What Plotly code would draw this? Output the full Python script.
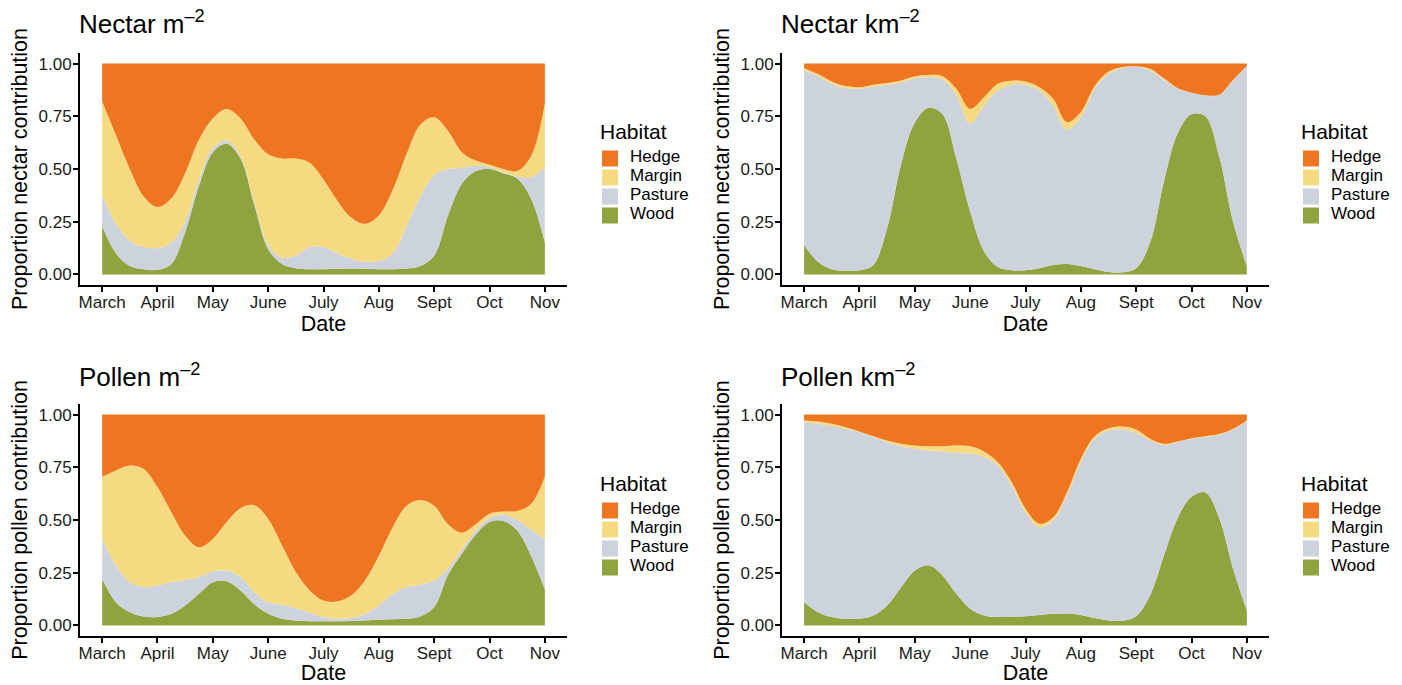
import plotly.graph_objects as go

# ---------------- data ----------------
month_pos = [0, 0.25, 0.5, 0.75, 1, 1.25, 1.5, 1.75, 2, 2.25, 2.5, 2.75, 3, 3.25, 3.5, 3.75,
             4, 4.25, 4.5, 4.75, 5, 5.25, 5.5, 5.75, 6, 6.25, 6.5, 6.75, 7, 7.25, 7.5, 7.75, 8]
month_ticks = [0, 1, 2, 3, 4, 5, 6, 7, 8]
month_labels = ["March", "April", "May", "June", "July", "Aug", "Sept", "Oct", "Nov"]
habitats = ["Hedge", "Margin", "Pasture", "Wood"]
colors = {"Hedge": "#EE7621", "Margin": "#F5DA82", "Pasture": "#CCD3DC", "Wood": "#8FA33F"}

# Nectar m^-2
nm_wood = [0.23, 0.10, 0.04, 0.025, 0.022, 0.05, 0.20, 0.42, 0.58, 0.62, 0.55, 0.33, 0.12, 0.05, 0.03, 0.025,
           0.025, 0.027, 0.028, 0.027, 0.025, 0.025, 0.028, 0.04, 0.09, 0.28, 0.43, 0.49, 0.50, 0.48, 0.455, 0.36, 0.15]
nm_pasture = [0.145, 0.14, 0.12, 0.105, 0.103, 0.10, 0.05, 0.03, 0.02, 0.015, 0.01, 0.01, 0.02, 0.03, 0.06, 0.105,
              0.105, 0.073, 0.047, 0.033, 0.04, 0.075, 0.202, 0.33, 0.38, 0.22, 0.075, 0.025, 0.01, 0.005, 0.01, 0.10, 0.36]
nm_margin = [0.445, 0.42, 0.34, 0.24, 0.195, 0.21, 0.23, 0.19, 0.14, 0.15, 0.18, 0.30, 0.43, 0.47, 0.46, 0.40,
             0.32, 0.25, 0.195, 0.18, 0.215, 0.30, 0.34, 0.34, 0.275, 0.18, 0.075, 0.025, 0.01, 0.015, 0.025, 0.10, 0.30]
nm_hedge = [0.18, 0.34, 0.50, 0.63, 0.68, 0.64, 0.52, 0.36, 0.26, 0.215, 0.26, 0.36, 0.43, 0.45, 0.45, 0.47,
            0.55, 0.65, 0.73, 0.76, 0.72, 0.60, 0.43, 0.29, 0.255, 0.32, 0.42, 0.46, 0.48, 0.50, 0.51, 0.44, 0.19]

# Nectar km^-2
nk_wood = [0.14, 0.06, 0.025, 0.018, 0.02, 0.045, 0.22, 0.52, 0.72, 0.79, 0.76, 0.55, 0.30, 0.11, 0.035, 0.02,
           0.02, 0.03, 0.045, 0.05, 0.04, 0.025, 0.012, 0.01, 0.03, 0.15, 0.44, 0.67, 0.76, 0.75, 0.56, 0.25, 0.04]
nk_pasture = [0.827, 0.88, 0.879, 0.865, 0.86, 0.845, 0.68, 0.39, 0.21, 0.145, 0.164, 0.30, 0.414, 0.69, 0.837, 0.88,
              0.88, 0.842, 0.755, 0.637, 0.705, 0.855, 0.938, 0.968, 0.956, 0.817, 0.484, 0.21, 0.10, 0.098, 0.29, 0.67, 0.947]
nk_margin = [0.011, 0.01, 0.011, 0.01, 0.008, 0.01, 0.008, 0.01, 0.01, 0.011, 0.016, 0.03, 0.071, 0.04, 0.032, 0.018,
             0.015, 0.016, 0.033, 0.035, 0.025, 0.013, 0.012, 0.006, 0.001, 0.008, 0.006, 0.003, 0.002, 0.002, 0.002, 0.002, 0.003]
nk_hedge = [0.022, 0.05, 0.085, 0.107, 0.112, 0.10, 0.092, 0.08, 0.06, 0.054, 0.06, 0.12, 0.215, 0.16, 0.096, 0.082,
            0.085, 0.112, 0.167, 0.278, 0.23, 0.107, 0.038, 0.016, 0.013, 0.025, 0.07, 0.117, 0.138, 0.15, 0.148, 0.078, 0.01]

# Pollen m^-2
pm_wood = [0.22, 0.11, 0.063, 0.043, 0.04, 0.055, 0.095, 0.15, 0.205, 0.21, 0.166, 0.10, 0.055, 0.032, 0.024, 0.02,
           0.02, 0.02, 0.021, 0.024, 0.027, 0.03, 0.032, 0.043, 0.087, 0.24, 0.34, 0.43, 0.49, 0.495, 0.45, 0.33, 0.17]
pm_pasture = [0.19, 0.174, 0.142, 0.139, 0.15, 0.15, 0.121, 0.08, 0.052, 0.05, 0.064, 0.058, 0.055, 0.066, 0.058, 0.04,
              0.02, 0.012, 0.014, 0.031, 0.068, 0.12, 0.15, 0.151, 0.126, 0.03, 0.02, 0.02, 0.02, 0.03, 0.05, 0.125, 0.24]
pm_margin = [0.295, 0.451, 0.553, 0.56, 0.466, 0.332, 0.211, 0.141, 0.153, 0.23, 0.326, 0.412, 0.395, 0.282, 0.171, 0.106,
             0.078, 0.082, 0.107, 0.158, 0.235, 0.316, 0.386, 0.401, 0.355, 0.21, 0.08, 0.03, 0.02, 0.015, 0.043, 0.121, 0.298]
pm_hedge = [0.295, 0.265, 0.242, 0.258, 0.344, 0.463, 0.573, 0.629, 0.59, 0.51, 0.444, 0.43, 0.495, 0.62, 0.747, 0.834,
            0.882, 0.886, 0.858, 0.787, 0.67, 0.534, 0.432, 0.405, 0.432, 0.52, 0.56, 0.52, 0.47, 0.46, 0.457, 0.424, 0.292]

# Pollen km^-2
pk_wood = [0.11, 0.063, 0.04, 0.032, 0.032, 0.047, 0.095, 0.18, 0.26, 0.285, 0.237, 0.15, 0.079, 0.047, 0.04, 0.041,
           0.044, 0.05, 0.055, 0.057, 0.05, 0.035, 0.024, 0.022, 0.044, 0.142, 0.33, 0.51, 0.61, 0.63, 0.51, 0.27, 0.07]
pk_pasture = [0.854, 0.893, 0.905, 0.90, 0.884, 0.846, 0.774, 0.67, 0.577, 0.545, 0.588, 0.668, 0.735, 0.753, 0.718, 0.623,
              0.493, 0.416, 0.443, 0.559, 0.724, 0.85, 0.90, 0.907, 0.869, 0.735, 0.526, 0.359, 0.275, 0.263, 0.394, 0.659, 0.898]
pk_margin = [0.008, 0.011, 0.011, 0.008, 0.004, 0.004, 0.008, 0.011, 0.016, 0.02, 0.025, 0.035, 0.036, 0.025, 0.016, 0.016,
             0.016, 0.016, 0.015, 0.016, 0.016, 0.012, 0.011, 0.014, 0.016, 0.008, 0.005, 0.003, 0.003, 0.004, 0.004, 0.003, 0.004]
pk_hedge = [0.028, 0.033, 0.044, 0.06, 0.08, 0.103, 0.123, 0.139, 0.147, 0.15, 0.15, 0.147, 0.15, 0.175, 0.226, 0.32,
            0.447, 0.518, 0.487, 0.368, 0.21, 0.103, 0.065, 0.057, 0.071, 0.115, 0.139, 0.128, 0.112, 0.103, 0.092, 0.068, 0.028]

panels = [
    dict(title="Nectar m<sup>–2</sup>", ylab="Proportion nectar contribution",
         data={"Wood": nm_wood, "Pasture": nm_pasture, "Margin": nm_margin, "Hedge": nm_hedge}),
    dict(title="Nectar km<sup>–2</sup>", ylab="Proportion nectar contribution",
         data={"Wood": nk_wood, "Pasture": nk_pasture, "Margin": nk_margin, "Hedge": nk_hedge}),
    dict(title="Pollen m<sup>–2</sup>", ylab="Proportion pollen contribution",
         data={"Wood": pm_wood, "Pasture": pm_pasture, "Margin": pm_margin, "Hedge": pm_hedge}),
    dict(title="Pollen km<sup>–2</sup>", ylab="Proportion pollen contribution",
         data={"Wood": pk_wood, "Pasture": pk_pasture, "Margin": pk_margin, "Hedge": pk_hedge}),
]

# ---------------- layout geometry ----------------
W, H = 1402, 685
FONT = "Liberation Sans, Arial, Helvetica, sans-serif"
TXT = "#1a1a1a"


def fx(px):
    return px / W


def fy(py):
    return 1 - py / H


xdoms = [[fx(80), fx(567)], [fx(782), fx(1269)], [fx(80), fx(567)], [fx(782), fx(1269)]]
ydoms = [[fy(285), fy(53)], [fy(285), fy(53)], [fy(636), fy(404)], [fy(636), fy(404)]]
title_pos = [(77, 23), (779, 23), (77, 375), (779, 375)]
legtitle_pos = [(598, 131), (1299, 131), (598, 483), (1299, 483)]
legend_pos = [(590, 144), (1291, 144), (590, 496), (1291, 496)]

fig = go.Figure()
layout = dict(width=W, height=H, margin=dict(l=0, r=0, t=0, b=0),
              paper_bgcolor="white", plot_bgcolor="white",
              font=dict(family=FONT, color="black"), annotations=[])

for i, p in enumerate(panels):
    n = i + 1
    xa = "x" if n == 1 else f"x{n}"
    ya = "y" if n == 1 else f"y{n}"
    lg = "legend" if n == 1 else f"legend{n}"
    for hab in ["Wood", "Pasture", "Margin", "Hedge"]:
        fig.add_trace(go.Scatter(
            x=month_pos, y=p["data"][hab], xaxis=xa, yaxis=ya,
            mode="lines", stackgroup=f"s{n}", name=hab,
            line=dict(width=0, shape="spline", smoothing=1.0, color=colors[hab]),
            fillcolor=colors[hab], showlegend=False, hoverinfo="skip"))
    for hab in habitats:
        fig.add_trace(go.Scatter(
            x=[None], y=[None], xaxis=xa, yaxis=ya, mode="markers",
            name=f'<span style="font-size:17px">{hab}</span>',
            marker=dict(symbol="square", size=16, color=colors[hab]),
            legend=lg, showlegend=True))

    axkw = dict(showline=True, linecolor="black", linewidth=2, ticks="outside",
                ticklen=5, tickwidth=1.8, tickcolor="black", showgrid=False, zeroline=False,
                tickfont=dict(size=17, color=TXT, family=FONT))
    layout[f"xaxis{'' if n == 1 else n}"] = dict(
        domain=xdoms[i], anchor=ya, range=[-0.4, 8.4], tickvals=month_ticks, ticktext=month_labels,
        ticklabelstandoff=-4,
        title=dict(text="Date", font=dict(size=21.5), standoff=3), **axkw)
    layout[f"yaxis{'' if n == 1 else n}"] = dict(
        domain=ydoms[i], anchor=xa, range=[-0.05, 1.05], tickvals=[0, 0.25, 0.5, 0.75, 1.0],
        tickformat=".2f", ticklabelstandoff=-2,
        title=dict(text=p["ylab"], font=dict(size=21.5), standoff=5), **axkw)
    tx, ty = title_pos[i]
    layout["annotations"].append(dict(
        text=p["title"], x=fx(tx), y=fy(ty), xref="paper", yref="paper",
        xanchor="left", yanchor="middle", showarrow=False, font=dict(size=26, color="black")))
    gx, gy = legtitle_pos[i]
    layout["annotations"].append(dict(
        text="Habitat", x=fx(gx), y=fy(gy), xref="paper", yref="paper",
        xanchor="left", yanchor="middle", showarrow=False, font=dict(size=21, color="black")))
    lx, ly = legend_pos[i]
    layout[lg] = dict(x=fx(lx), y=fy(ly), xanchor="left", yanchor="top", traceorder="normal",
                      font=dict(size=10), bgcolor="rgba(0,0,0,0)", tracegroupgap=0,
                      itemwidth=30)

fig.update_layout(**layout)
fig.write_html("out.html", config={"displayModeBar": False},
               post_script="document.body.style.margin='0';document.body.style.overflow='hidden';")
